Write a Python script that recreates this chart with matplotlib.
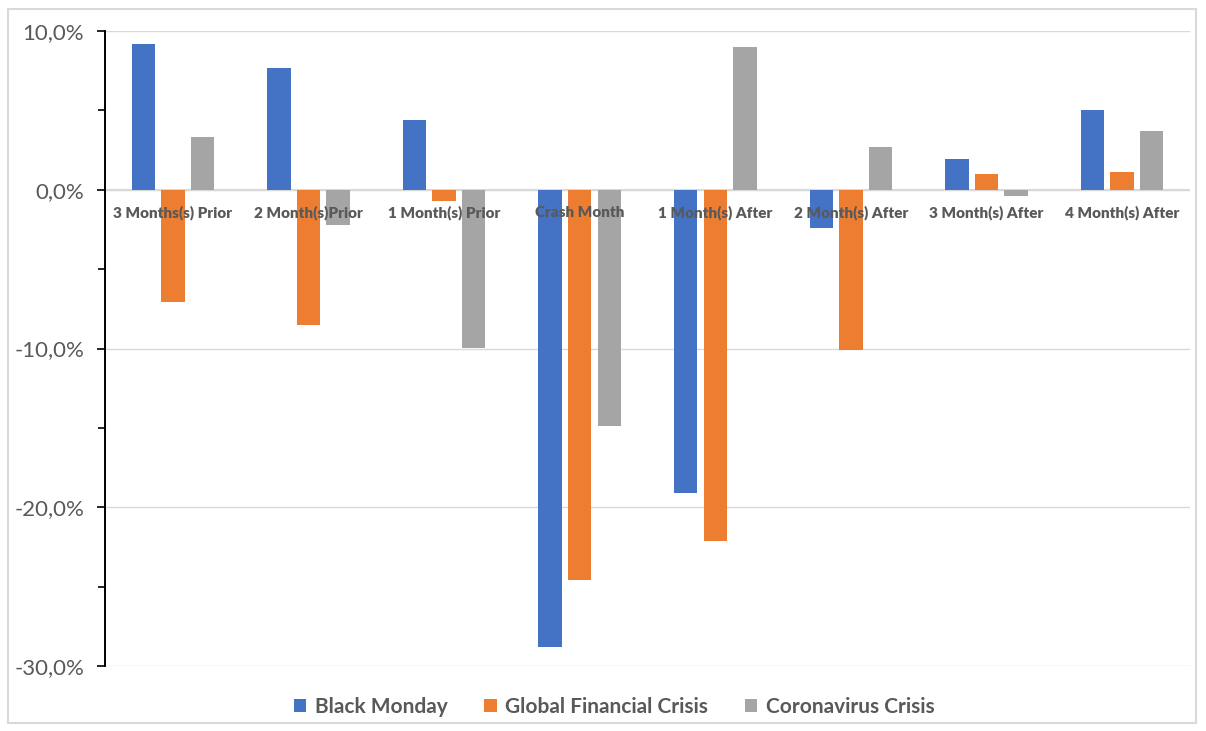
import numpy as np
import matplotlib.pyplot as plt
from matplotlib.patches import Rectangle
from matplotlib.ticker import FuncFormatter, MultipleLocator

# monthly returns (%) around each crash
categories = ["3 Months(s) Prior", "2 Month(s)Prior", "1 Month(s) Prior", "Crash Month",
              "1 Month(s) After", "2 Month(s) After", "3 Month(s) After", "4 Month(s) After"]
black_monday = [9.2, 7.7, 4.4, -28.8, -19.1, -2.4, 1.95, 5.0]
gfc = [-7.1, -8.5, -0.7, -24.6, -22.1, -10.1, 1.0, 1.1]
corona = [3.3, -2.2, -9.95, -14.9, 9.0, 2.7, -0.4, 3.7]

series = [("Black Monday", black_monday, "#4472C4"),
          ("Global Financial Crisis", gfc, "#ED7D31"),
          ("Coronavirus Crisis", corona, "#A5A5A5")]

plt.rcParams['font.family'] = ['Lato', 'DejaVu Sans']
txt = "#595959"

fig = plt.figure(figsize=(12.06, 7.31), dpi=100)
# plot area: -30 .. 10 spans pixel rows 666 .. 31
ax = fig.add_axes([105 / 1206, (731 - 666) / 731, 1085 / 1206, (666 - 31) / 731])

x = np.arange(len(categories))
w = 0.173
step = 0.218
for i, (name, vals, col) in enumerate(series):
    ax.bar(x + (i - 1) * step, vals, width=w, color=col, label=name, zorder=2)

ax.set_xlim(-0.5, len(categories) - 0.5)
ax.set_ylim(-30, 10)
ax.yaxis.set_major_locator(MultipleLocator(10))
ax.yaxis.set_minor_locator(MultipleLocator(5))
ax.yaxis.set_major_formatter(FuncFormatter(lambda v, p: f"{v:.1f}%".replace(".", ",")))
ax.tick_params(axis='y', which='both', direction='out', length=6, width=1.2,
               color='black', labelsize=16, labelcolor=txt, pad=9)
ax.tick_params(axis='y', which='minor', length=5)
ax.set_xticks([])
ax.grid(axis='y', which='major', color='#D9D9D9', lw=1, zorder=0)
for s in ['top', 'right', 'bottom']:
    ax.spines[s].set_visible(False)
ax.spines['left'].set_color('black')
ax.spines['left'].set_linewidth(1.4)
ax.axhline(0, color='#D9D9D9', lw=1.5, zorder=1)

# category names sit just under the zero line, over the bars
for xi, c in zip(x, categories):
    ax.text(xi, -1.45, c, ha='center', va='center', fontsize=11,
            fontweight='heavy', color=txt, zorder=5)

leg = fig.legend(loc='center', bbox_to_anchor=(614 / 1206, 1 - 707 / 731), ncol=3,
                 frameon=False, handlelength=0.62, handleheight=0.62,
                 columnspacing=1.75, handletextpad=0.4,
                 prop={'size': 15, 'weight': 'bold'})
for t in leg.get_texts():
    t.set_color(txt)

# light outer frame of the chart area
fig.patches.append(Rectangle((8 / 1206, 8 / 731), 1188 / 1206, 714 / 731,
                             transform=fig.transFigure, fill=False,
                             edgecolor='#D9D9D9', lw=1.5))

fig.savefig("out.png", dpi=100)
